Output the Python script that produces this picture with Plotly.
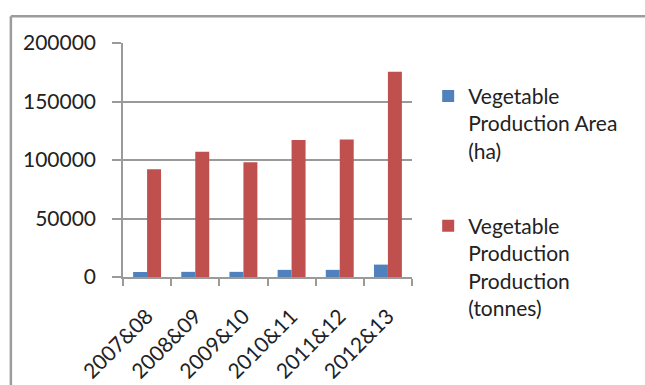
import plotly.graph_objects as go

# Seasons and yearly vegetable production figures
seasons = ["2007&08", "2008&09", "2009&10", "2010&11", "2011&12", "2012&13"]
area_ha = [4300, 4400, 4400, 6100, 6100, 10600]
production_t = [92000, 107000, 98000, 117000, 117500, 175500]
y_ticks = [0, 50000, 100000, 150000, 200000]

FONT = "Lato"
TEXT = "#222222"
GRID = "#9a9a9a"

fig = go.Figure()
fig.add_trace(go.Bar(
    x=seasons, y=area_ha,
    name="Vegetable<br>Production Area<br>(ha)",
    marker=dict(color="#4f81bd", line=dict(width=0)),
    legendgroup="area",
))
fig.add_trace(go.Bar(
    x=seasons, y=production_t,
    name="Vegetable<br>Production<br>Production<br>(tonnes)",
    marker=dict(color="#c0504d", line=dict(width=0)),
    legendgroup="prod",
))

fig.update_layout(
    width=645, height=385,
    margin=dict(l=123, r=233, t=43, b=108, autoexpand=False),
    paper_bgcolor="white", plot_bgcolor="white",
    barmode="group", bargap=0.42, bargroupgap=0,
    font=dict(family=FONT, size=21, color=TEXT),
    showlegend=True,
    legend=dict(
        x=1.056, xanchor="left", y=0.86, yanchor="top",
        valign="top", tracegroupgap=45, maxheight=360,
        font=dict(family=FONT, size=21, color=TEXT),
        bgcolor="rgba(0,0,0,0)", itemclick=False,
    ),
    xaxis=dict(
        type="category", tickangle=-45, automargin=False,
        showline=True, linecolor=GRID, linewidth=1.5,
        ticks="outside", tickson="boundaries", ticklen=7,
        tickcolor=GRID, tickwidth=1.5,
        ticklabelstandoff=17,
        showgrid=False, zeroline=False,
        tickfont=dict(family=FONT, size=21, color=TEXT),
    ),
    yaxis=dict(
        range=[0, 200000], tickvals=y_ticks, automargin=False,
        tickformat="d",
        showline=True, linecolor=GRID, linewidth=1.5,
        ticks="outside", ticklen=9, tickcolor=GRID, tickwidth=1.5,
        ticklabelstandoff=12,
        showgrid=True, gridcolor=GRID, gridwidth=1.5,
        zeroline=False,
        tickfont=dict(family=FONT, size=21, color=TEXT),
    ),
)

# Outer chart frame (top and left edges)
fig.add_shape(type="line", xref="paper", yref="paper",
              x0=-0.388, x1=1.9, y0=1.114, y1=1.114,
              line=dict(color="#9c9c9c", width=2.5))
fig.add_shape(type="line", xref="paper", yref="paper",
              x0=-0.388, x1=-0.388, y0=-0.5, y1=1.114,
              line=dict(color="#9c9c9c", width=2.5))

fig.write_html("out.html")
